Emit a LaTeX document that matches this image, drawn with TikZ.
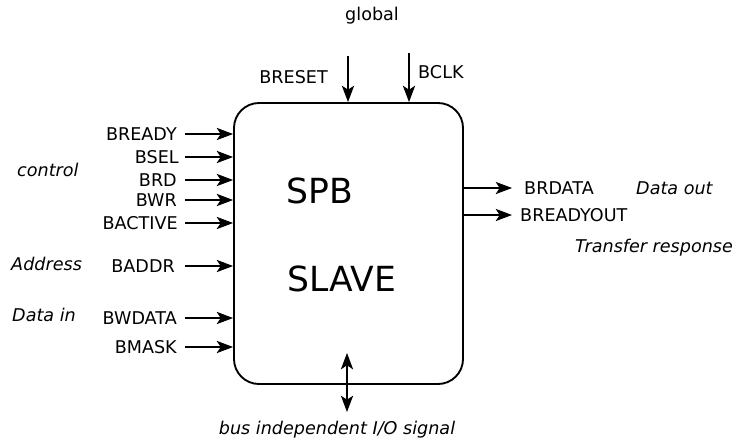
\documentclass[tikz,border=0pt]{standalone}
\usepackage{fontspec}
\setmainfont{DejaVu Sans}
\usepackage{tikz}
\usetikzlibrary{positioning,arrows.meta}

\begin{document}
\begin{tikzpicture}[
  x=0.03cm, y=-0.03cm,
  font=\fontsize{15pt}{17pt}\selectfont, >={Stealth[length=14pt,width=10.5pt,inset=3.5pt]},
  block/.style={draw, line width=1.6pt, rounded corners=0.75cm,
                minimum width=6.87cm, minimum height=8.43cm},
  big/.style={inner sep=0pt, anchor=west, font=\fontsize{29.5pt}{34pt}\selectfont},
  sig/.style={inner sep=0pt, anchor=east},
  osig/.style={inner sep=0pt, anchor=west},
  grp/.style={inner sep=0pt, anchor=west, font=\fontsize{15pt}{17pt}\selectfont\itshape},
  arr/.style={->, line width=0.9pt},
]
\useasboundingbox (0,0) rectangle (737,444);

\node[block] (slave) at (348.5,243.5) {};
\node[big] (spb) at (286,191) {SPB};
\node[big] (sl)  at (287,279) {SLAVE};

\node (glob) at (372,16) {global};
\node[sig]  (breset) at (328,77) {BRESET};
\node[osig] (bclk)   at (418,72) {BCLK};
\coordinate (rst) at (348,56);
\coordinate (clk) at (409,53);
\draw[arr] (rst) -- (rst |- slave.north);
\draw[arr] (clk) -- (clk |- slave.north);

\node[sig] (bready)  at (177,134) {BREADY};
\node[sig] (bsel)    at (179,157) {BSEL};
\node[sig] (brd)     at (177,180) {BRD};
\node[sig] (bwr)     at (177,200) {BWR};
\node[sig] (bactive) at (178,223) {BACTIVE};
\node[sig] (baddr)   at (175,266) {BADDR};
\node[sig] (bwdata)  at (177,318) {BWDATA};
\node[sig] (bmask)   at (177,347) {BMASK};
\foreach \s in {bready,bsel,brd,bwr,bactive,baddr,bwdata,bmask}
  \draw[arr] (185,0 |- \s.east) -- (\s.east -| slave.west);

\node[grp] (ctrl) at (17,170) {control};
\node[grp] (addr) at (11,264) {Address};
\node[grp] (din)  at (12,315) {Data in};

\coordinate (rdo) at (512,188);
\coordinate (ryo) at (512,215);
\draw[arr] (rdo -| slave.east) -- (rdo);
\draw[arr] (ryo -| slave.east) -- (ryo);
\node[osig] (brdata)    at (524,188) {BRDATA};
\node[osig] (breadyout) at (520,215) {BREADYOUT};
\node[grp]  (dout)      at (636,188) {Data out};
\node[grp]  (resp)      at (575,248) {Transfer response};

\coordinate (iotop) at (347,353);
\coordinate (iobot) at (347,412);
\draw[<->, line width=0.9pt] (iotop) -- (iobot);
\node[font=\fontsize{15pt}{17pt}\selectfont\itshape] (io) at (337,430) {bus independent I/O signal};
\end{tikzpicture}
\end{document}
